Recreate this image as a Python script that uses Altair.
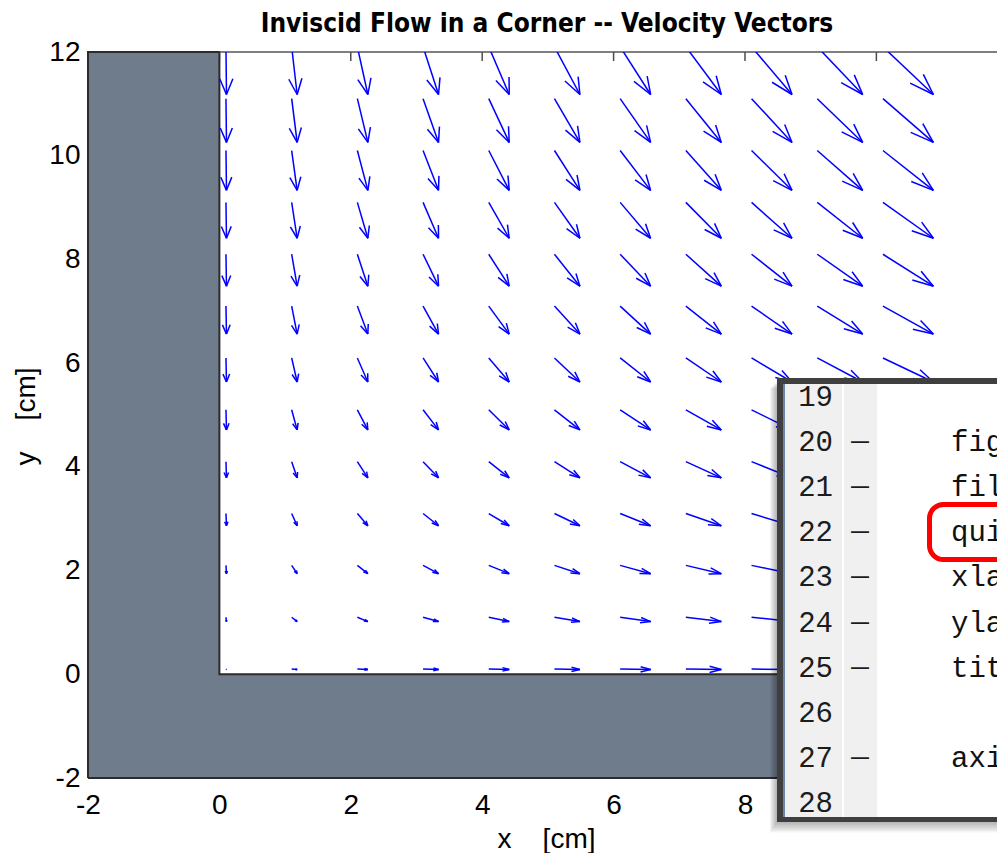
import altair as alt
import pandas as pd

# Sample points of the quiver grid [cm]
x_points = [0.1, 1.1, 2.1, 3.1, 4.1, 5.1, 6.1, 7.1, 8.1, 9.1, 10.1]
y_points = [0.1, 1.1, 2.1, 3.1, 4.1, 5.1, 6.1, 7.1, 8.1, 9.1, 10.1, 11.1, 12.1]

# Velocity components: u changes along each column, v along each row
u_by_column = [0.1, 1.1, 2.1, 3.1, 4.1, 5.1, 6.1, 7.1, 8.1, 9.1, 10.1]
v_by_row = [-0.1, -1.1, -2.1, -3.1, -4.1, -5.1, -6.1, -7.1, -8.1, -9.1, -10.1, -11.1, -12.1]

# Corner wall (filled L-shaped patch)
wall_x = [-2, -2, 0, 0, 12, 12, -2]
wall_y = [-2, 12, 12, 0, 0, -2, -2]
wall_rect_x1 = [-2, -2]
wall_rect_x2 = [0, 12]
wall_rect_y1 = [-2, -2]
wall_rect_y2 = [12, 0]

tick_values = [-2, 0, 2, 4, 6, 8, 10, 12]

# Editor panel listing
line_numbers = [19, 20, 21, 22, 23, 24, 25, 26, 27, 28]
gutter_marks = ["", "\u2014", "\u2014", "\u2014", "\u2014", "\u2014", "\u2014", "", "\u2014", ""]
code_text = ["", "fig", "fil", "qui", "xla", "yla", "tit", "", "axi", ""]

TITLE = "Inviscid Flow in a Corner -- Velocity Vectors"

# ---------------------------------------------------------------- layout
X_DOMAIN = [-2, 11.836]
Y_DOMAIN = [-2, 12]
W, H = 909, 726
OX, OY = 88, 52           # plot origin on the page
ARROW_SCALE = 0.076
ALPHA, BETA = 0.33, 0.33  # arrow head length / width factors
SANS = "Liberation Sans, Arial, Helvetica, sans-serif"
NARROW = "Liberation Sans Narrow, Arial Narrow, DejaVu Sans Condensed, sans-serif"
MONO = "Courier New, Liberation Mono, DejaVu Sans Mono, monospace"
BLUE = "#0000ff"
FS = 28

# Quiver segments: shaft plus two head strokes per arrow
segs = []
for i, x in enumerate(x_points):
    for j, y in enumerate(y_points):
        u = u_by_column[i] * ARROW_SCALE
        v = v_by_row[j] * ARROW_SCALE
        tx, ty = x + u, y + v
        eps = 1e-12
        segs.append((x, y, tx, ty))
        segs.append((tx - ALPHA * (u + BETA * (v + eps)), ty - ALPHA * (v - BETA * (u + eps)), tx, ty))
        segs.append((tx - ALPHA * (u - BETA * (v + eps)), ty - ALPHA * (v + BETA * (u + eps)), tx, ty))
arrows = pd.DataFrame(segs, columns=["x1", "y1", "x2", "y2"])

xs = alt.Scale(domain=X_DOMAIN, nice=False, zero=False)
ys = alt.Scale(domain=Y_DOMAIN, nice=False, zero=False)

x_axis = alt.Axis(
    values=tick_values[:-1], labelExpr="'' + datum.value", ticks=False, tickSize=0,
    domain=False, grid=False, labelFlush=False, labelOverlap=False,
    labelFont=SANS, labelFontSize=FS, labelColor="#000", labelPadding=13,
    title="x\u00a0\u00a0\u00a0\u00a0[cm]", titleFont=SANS, titleFontSize=FS,
    titleFontWeight="normal", titleColor="#000", titleX=546 - OX, titleY=847 - (OY + H),
    titleBaseline="alphabetic", titleAlign="center", titleAnchor="start",
)
y_axis = alt.Axis(
    values=tick_values, labelExpr="'' + datum.value", ticks=False, tickSize=0,
    domain=False, grid=False, labelFlush=False, labelOverlap=False,
    labelFont=SANS, labelFontSize=FS, labelColor="#000", labelPadding=8,
    title="y\u00a0\u00a0\u00a0\u00a0[cm]", titleFont=SANS, titleFontSize=FS,
    titleFontWeight="normal", titleColor="#000", titleAngle=270,
    titleX=34 - OX, titleY=416 - OY, titleBaseline="alphabetic", titleAlign="center",
    titleAnchor="start",
)

# Inward ticks along the top edge
ticks_df = pd.DataFrame({"t": tick_values})
top_ticks = alt.Chart(ticks_df).mark_rule(color="#4d4d4d", strokeWidth=1.5).encode(
    x=alt.X("t:Q", scale=xs, axis=x_axis), y=alt.value(0), y2=alt.value(9)
)

walls = pd.DataFrame({"x1": wall_rect_x1, "x2": wall_rect_x2, "y1": wall_rect_y1, "y2": wall_rect_y2})
wall_fill = alt.Chart(walls).mark_rect(color="#6f7c8c").encode(
    x=alt.X("x1:Q", scale=xs), x2="x2:Q",
    y=alt.Y("y1:Q", scale=ys, axis=y_axis), y2="y2:Q",
)
outline = pd.DataFrame({"x": wall_x, "y": wall_y, "order": list(range(len(wall_x)))})
wall_edge = alt.Chart(outline).mark_line(color="#2b2b2b", strokeWidth=2).encode(
    x=alt.X("x:Q", scale=xs), y=alt.Y("y:Q", scale=ys), order="order:O"
)

top_frame = alt.Chart(pd.DataFrame({"x1": [0], "x2": [12], "y": [12]})).mark_rule(
    color="#555555", strokeWidth=1.5
).encode(x=alt.X("x1:Q", scale=xs), x2="x2:Q", y=alt.Y("y:Q", scale=ys))

quiver = alt.Chart(arrows).mark_rule(color=BLUE, strokeWidth=1.5, clip=True).encode(
    x=alt.X("x1:Q", scale=xs), y=alt.Y("y1:Q", scale=ys), x2="x2:Q", y2="y2:Q"
)

one = pd.DataFrame({"k": [0]})

heading = alt.Chart(one).mark_text(
    text=TITLE, font=NARROW, fontSize=26, fontWeight="bold", color="#000",
    align="center", baseline="alphabetic",
).encode(x=alt.value(547 - OX), y=alt.value(32 - OY))

# ---------------------------------------------------------------- editor panel


def px_rect(x1, y1, x2, y2, **mark):
    return alt.Chart(one).mark_rect(**mark).encode(
        x=alt.value(x1 - OX), x2=alt.value(x2 - OX),
        y=alt.value(y1 - OY), y2=alt.value(y2 - OY),
    )


panel = []
for k in range(1, 8):
    panel.append(px_rect(777 - k, 381 + k, 1010, 822 + 1.5 * k, color="#000", opacity=0.045))
panel += [
    px_rect(777, 378, 1010, 822, color="#3f3f3f"),
    px_rect(783, 384, 1010, 817, color="#ffffff"),
    px_rect(783, 384, 785, 817, color="#6a86ad"),
    px_rect(785, 384, 842, 817, color="#f0f0f0"),
    px_rect(844, 384, 877, 817, color="#f0f0f0"),
]

FIRST_LINE_Y, LINE_STEP = 397, 45.1
editor = pd.DataFrame({"line": line_numbers, "gutter": gutter_marks, "code": code_text})
ed = alt.Chart(editor).transform_calculate(
    py=f"{FIRST_LINE_Y - OY} + (datum.line - {line_numbers[0]}) * {LINE_STEP}"
)
ed_y = alt.Y("py:Q", scale=None)
panel += [
    ed.mark_text(align="right", baseline="middle", font=MONO, fontSize=29, color="#1c1c1c").encode(
        x=alt.value(833 - OX), y=ed_y, text=alt.Text("line:N")
    ),
    ed.mark_text(align="center", baseline="middle", font=SANS, fontSize=18, fontWeight="bold",
                 color="#1c1c1c").encode(
        x=alt.value(860 - OX), y=ed_y, text=alt.Text("gutter:N")
    ),
    ed.mark_text(align="left", baseline="middle", font=MONO, fontSize=29, color="#111").encode(
        x=alt.value(951 - OX), y=ed_y, text=alt.Text("code:N")
    ),
    px_rect(929.5, 504.5, 1030, 559.5, fillOpacity=0, stroke="#ff0000", strokeWidth=5, cornerRadius=14),
]

chart = alt.layer(top_ticks, wall_fill, wall_edge, top_frame, quiver, heading, *panel).properties(
    width=W, height=H,
    padding={"left": OX, "top": OY, "right": 0, "bottom": 853 - OY - H},
    autosize=alt.AutoSizeParams(type="none"),
    background="white",
).configure_view(strokeWidth=0)

chart.save("out.html", embed_options={"renderer": "svg", "actions": False})
